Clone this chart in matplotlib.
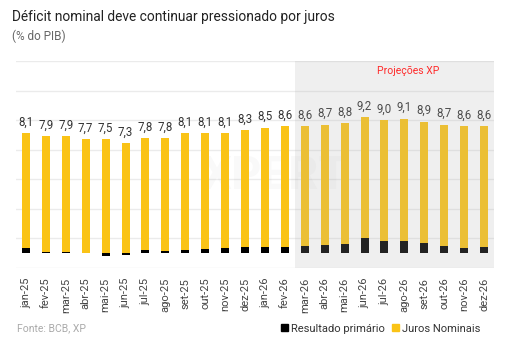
import numpy as np
import matplotlib
matplotlib.use('Agg')
import matplotlib.pyplot as plt
from matplotlib.patches import Patch

plt.rcParams['font.family'] = ['Roboto', 'DejaVu Sans']

# dados (% do PIB)
meses = ['jan-25', 'fev-25', 'mar-25', 'abr-25', 'mai-25', 'jun-25', 'jul-25', 'ago-25',
         'set-25', 'out-25', 'nov-25', 'dez-25', 'jan-26', 'fev-26', 'mar-26', 'abr-26',
         'mai-26', 'jun-26', 'jul-26', 'ago-26', 'set-26', 'out-26', 'nov-26', 'dez-26']
deficit_nominal = [8.1, 7.9, 7.9, 7.7, 7.5, 7.3, 7.8, 7.8, 8.1, 8.1, 8.1, 8.3,
                   8.5, 8.6, 8.6, 8.7, 8.8, 9.2, 9.0, 9.1, 8.9, 8.7, 8.6, 8.6]
resultado_primario = [0.36, 0.10, 0.10, 0.03, -0.20, -0.15, 0.22, 0.15, 0.25, 0.30, 0.33, 0.40,
                      0.40, 0.45, 0.47, 0.54, 0.65, 1.00, 0.82, 0.82, 0.68, 0.47, 0.38, 0.45]
juros_nominais = [7.74, 7.80, 7.80, 7.67, 7.70, 7.45, 7.58, 7.65, 7.85, 7.80, 7.77, 7.90,
                  8.10, 8.15, 8.13, 8.16, 8.15, 8.20, 8.18, 8.28, 8.22, 8.23, 8.22, 8.15]
inicio_projecao = 'mar-26'

amarelo = '#FAC316'
preto = '#000000'

fig = plt.figure(figsize=(5.08, 3.51), dpi=100)
ax = fig.add_axes([0.0315, 0.2365, 0.9409, 0.5897])

x = np.arange(len(meses))
prim = np.array(resultado_primario)
jur = np.array(juros_nominais)

ax.bar(x, prim, width=0.4, color=preto, zorder=2)
ax.bar(x, jur, width=0.4, bottom=np.maximum(prim, 0), color=amarelo, zorder=2)

topo = jur + np.maximum(prim, 0)
for xi, yi, v in zip(x, topo, deficit_nominal):
    ax.annotate(f'{v:.1f}'.replace('.', ','), (xi, yi), xytext=(0, 8), textcoords='offset points',
                ha='center', va='center', fontsize=8.3, color='#333333')

# area de projecoes
i0 = meses.index(inicio_projecao)
ax.axvspan(i0 - 0.5, len(meses) - 0.5, color='#b2b2b2', alpha=0.2, lw=0, zorder=3)
ax.text(19.2, 12.3, 'Projeções XP', color='#ff2a2a', fontsize=7.5, ha='center', va='center', zorder=4)

# marca d'agua
ax.text(12.5, 5.2, 'XPERT', fontsize=34, fontweight='bold', color='#000000', alpha=0.025,
        ha='center', va='center', zorder=1)

ax.set_xlim(-0.5, len(meses) - 0.5)
ax.set_ylim(-1, 13)
ax.set_yticks(np.arange(-1, 14, 2))
ax.yaxis.grid(True, color='#ebebeb', linewidth=1)
ax.set_axisbelow(True)
ax.tick_params(axis='y', left=False, labelleft=False)
ax.set_xticks(x)
ax.set_xticklabels(meses, rotation=90, fontsize=8, color='#444444')
ax.tick_params(axis='x', length=0, pad=7)
for s in ax.spines.values():
    s.set_visible(False)

fig.text(0.024, 0.952, 'Déficit nominal deve continuar pressionado por juros', fontsize=9.9,
         color='#222222', va='center')
fig.text(0.024, 0.897, '(% do PIB)', fontsize=8.5, color='#666666', va='center')
fig.text(0.034, 0.066, 'Fonte: BCB, XP', fontsize=7.5, color='#aaaaaa', va='center')

handles = [Patch(color=preto, label='Resultado primário'), Patch(color=amarelo, label='Juros Nominais')]
leg = fig.legend(handles=handles, loc='center right', bbox_to_anchor=(0.965, 0.063), ncol=2,
                 frameon=False, fontsize=8, handlelength=0.6, handleheight=0.6,
                 handletextpad=0.3, columnspacing=0.6)
for t in leg.get_texts():
    t.set_color('#333333')

fig.savefig('out.png', dpi=100)
